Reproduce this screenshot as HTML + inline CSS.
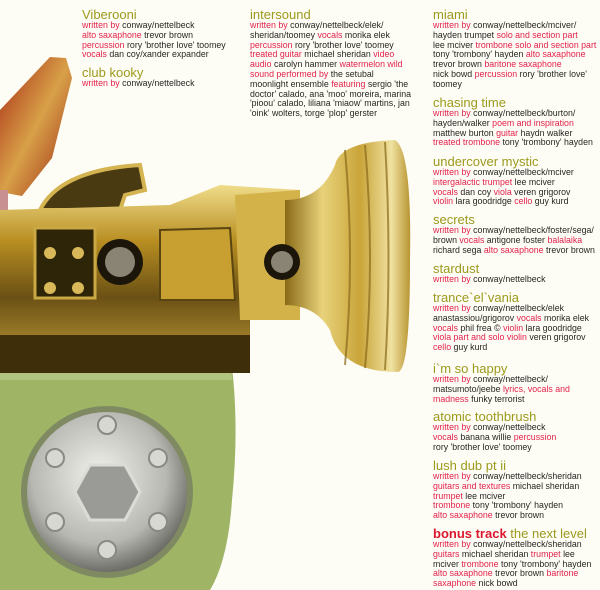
<!DOCTYPE html>
<html><head><meta charset="utf-8"><style>
body{margin:0;width:600px;height:590px;background:#fdfcf5;position:relative;overflow:hidden;font-family:"Liberation Sans",sans-serif}
.b{position:absolute;font-size:8.8px;line-height:9.8px;color:#2a2622;white-space:nowrap;letter-spacing:0}
.b h{display:block;color:#9c9a1c;font-size:13px;line-height:13px;font-weight:normal}
.b i{font-style:normal;color:#e3224c}
.b h i{color:#dc1830;font-weight:bold}
svg{position:absolute;left:0;top:0}
</style></head><body>
<svg width="600" height="590" viewBox="0 0 600 590">
<defs>
<linearGradient id="g" x1="0" y1="0" x2="0" y2="1"><stop offset="0" stop-color="#f0dc8a"/><stop offset=".3" stop-color="#b88e22"/><stop offset=".6" stop-color="#6a5014"/><stop offset="1" stop-color="#c8a23a"/></linearGradient>
<linearGradient id="bell" x1="0" y1="0" x2="1" y2="0"><stop offset="0" stop-color="#8a6a18"/><stop offset=".3" stop-color="#e8d27a"/><stop offset=".6" stop-color="#c9a53a"/><stop offset=".85" stop-color="#f0e2a0"/><stop offset="1" stop-color="#b89430"/></linearGradient>
<radialGradient id="hub" cx=".45" cy=".4" r=".6"><stop offset="0" stop-color="#f2f2ee"/><stop offset=".7" stop-color="#b8b8b2"/><stop offset="1" stop-color="#6e6e68"/></radialGradient>
<linearGradient id="red" x1="0" y1="0" x2="1" y2="1"><stop offset="0" stop-color="#a82a14"/><stop offset=".5" stop-color="#d8a048"/><stop offset="1" stop-color="#9a2412"/></linearGradient>
</defs>
<polygon points="0,110 50,57 66,58 72,78 52,158 22,196 0,192" fill="url(#red)"/>
<rect x="0" y="190" width="8" height="40" fill="#c89090"/>
<path d="M0,352 L230,352 Q240,420 232,500 Q228,560 210,590 L0,590 Z" fill="#9fb465"/>
<path d="M0,352 L230,352 L232,380 L0,380Z" fill="#b3c47e"/>
<circle cx="107" cy="492" r="86" fill="#7f8a62"/>
<circle cx="107" cy="492" r="80" fill="url(#hub)"/>
<polygon points="90,465 125,465 140,492 125,520 90,520 75,492" fill="#9a9a96" stroke="#dcdcd6" stroke-width="3"/>
<g fill="#d8d8d2" stroke="#8a8a84" stroke-width="2">
<circle cx="107" cy="425" r="9"/><circle cx="55" cy="458" r="9"/><circle cx="158" cy="458" r="9"/>
<circle cx="55" cy="522" r="9"/><circle cx="158" cy="522" r="9"/><circle cx="107" cy="550" r="9"/></g>
<path d="M40,210 Q60,170 140,165 L145,190 L125,195 L120,210 Z" fill="#4a3a12" stroke="#d4b450" stroke-width="4"/>
<path d="M0,210 L170,205 L220,185 L300,190 L300,310 L250,315 L250,370 L0,372 Z" fill="url(#g)"/>
<rect x="0" y="335" width="250" height="38" fill="#3e2e0a"/>
<rect x="35" y="228" width="60" height="70" fill="#2e2408" stroke="#caa844" stroke-width="3"/>
<g fill="#d8b858"><circle cx="50" cy="253" r="6"/><circle cx="78" cy="253" r="6"/><circle cx="50" cy="288" r="6"/><circle cx="78" cy="288" r="6"/></g>
<path d="M160,230 L230,228 L235,300 L160,300 Z" fill="#c8a032" stroke="#5a4410" stroke-width="2"/>
<path d="M235,195 L300,190 L300,320 L240,320 Z" fill="#d4b24a"/>
<path d="M285,200 Q320,200 335,165 Q340,142 395,140 Q412,150 410,260 Q410,370 398,372 Q340,372 330,330 Q315,305 285,305 Z" fill="url(#bell)"/>
<g stroke="#8a6a1a" stroke-width="2" fill="none" opacity=".7"><path d="M345,150 Q355,260 345,365"/><path d="M365,145 Q375,260 365,368"/><path d="M385,142 Q392,260 385,370"/></g>
<circle cx="120" cy="262" r="23" fill="#1c160a"/><circle cx="120" cy="262" r="15" fill="#8a8474"/>
<circle cx="282" cy="262" r="18" fill="#1c160a"/><circle cx="282" cy="262" r="11" fill="#8a8474"/>
</svg>

<div class="b" style="left:82px;top:8px"><h>Viberooni</h><i>written by</i> conway/nettelbeck<br><i>alto saxaphone</i> trevor brown<br><i>percussion</i> rory 'brother love' toomey<br><i>vocals</i> dan coy/xander expander</div>
<div class="b" style="left:82px;top:66px"><h>club kooky</h><i>written by</i> conway/nettelbeck</div>

<div class="b" style="left:250px;top:8px"><h>intersound</h><i>written by</i> conway/nettelbeck/elek/<br>sheridan/toomey <i>vocals</i> morika elek<br><i>percussion</i> rory 'brother love' toomey<br><i>treated guitar</i> michael sheridan <i>video</i><br><i>audio</i> carolyn hammer <i>watermelon wild</i><br><i>sound performed by</i> the setubal<br>moonlight ensemble <i>featuring</i> sergio 'the<br>doctor' calado, ana 'moo' moreira, marina<br>'pioou' calado, liliana 'miaow' martins, jan<br>'oink' wolters, torge 'plop' gerster</div>

<div class="b" style="left:433px;top:8px"><h>miami</h><i>written by</i> conway/nettelbeck/mciver/<br>hayden trumpet <i>solo and section part</i><br>lee mciver <i>trombone solo and section part</i><br>tony 'trombony' hayden <i>alto saxaphone</i><br>trevor brown <i>baritone saxaphone</i><br>nick bowd <i>percussion</i> rory 'brother love'<br>toomey</div>
<div class="b" style="left:433px;top:96px"><h>chasing time</h><i>written by</i> conway/nettelbeck/burton/<br>hayden/walker <i>poem and inspiration</i><br>matthew burton <i>guitar</i> haydn walker<br><i>treated trombone</i> tony 'trombony' hayden</div>
<div class="b" style="left:433px;top:155px"><h>undercover mystic</h><i>written by</i> conway/nettelbeck/mciver<br><i>intergalactic trumpet</i> lee mciver<br><i>vocals</i> dan coy <i>viola</i> veren grigorov<br><i>violin</i> lara goodridge <i>cello</i> guy kurd</div>
<div class="b" style="left:433px;top:213px"><h>secrets</h><i>written by</i> conway/nettelbeck/foster/sega/<br>brown <i>vocals</i> antigone foster <i>balalaika</i><br>richard sega <i>alto saxaphone</i> trevor brown</div>
<div class="b" style="left:433px;top:262px"><h>stardust</h><i>written by</i> conway/nettelbeck</div>
<div class="b" style="left:433px;top:291px"><h>trance`el`vania</h><i>written by</i> conway/nettelbeck/elek<br>anastassiou/grigorov <i>vocals</i> morika elek<br><i>vocals</i> phil frea © <i>violin</i> lara goodridge<br><i>viola part and solo violin</i> veren grigorov<br><i>cello</i> guy kurd</div>
<div class="b" style="left:433px;top:362px"><h>i`m so happy</h><i>written by</i> conway/nettelbeck/<br>matsumoto/jeebe <i>lyrics, vocals and</i><br><i>madness</i> funky terrorist</div>
<div class="b" style="left:433px;top:410px"><h>atomic toothbrush</h><i>written by</i> conway/nettelbeck<br><i>vocals</i> banana willie <i>percussion</i><br>rory 'brother love' toomey</div>
<div class="b" style="left:433px;top:459px"><h>lush dub pt ii</h><i>written by</i> conway/nettelbeck/sheridan<br><i>guitars and textures</i> michael sheridan<br><i>trumpet</i> lee mciver<br><i>trombone</i> tony 'trombony' hayden<br><i>alto saxaphone</i> trevor brown</div>
<div class="b" style="left:433px;top:527px"><h><i>bonus track</i> the next level</h><i>written by</i> conway/nettelbeck/sheridan<br><i>guitars</i> michael sheridan <i>trumpet</i> lee<br>mciver <i>trombone</i> tony 'trombony' hayden<br><i>alto saxaphone</i> trevor brown <i>baritone</i><br><i>saxaphone</i> nick bowd</div>
</body></html>
